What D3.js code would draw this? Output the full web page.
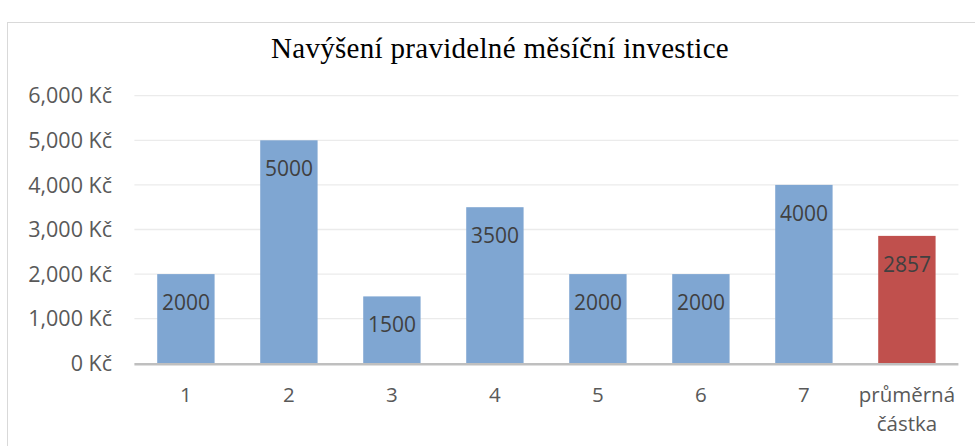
<!DOCTYPE html>
<html>
<head>
<meta charset="utf-8">
<script src="https://cdn.jsdelivr.net/npm/d3@7"></script>
<style>
  body { margin: 0; background: #fff; }
  svg { display: block; }
</style>
</head>
<body>
<svg id="chart"></svg>
<script>
const categories = ["1", "2", "3", "4", "5", "6", "7", "průměrná částka"];
const values = [2000, 5000, 1500, 3500, 2000, 2000, 4000, 2857];
const yTicks = [0, 1000, 2000, 3000, 4000, 5000, 6000];

const width = 975;
const height = 446;
const plot = { left: 134.4, right: 958.4, top: 95.7, bottom: 363.3 };

const svg = d3.select("#chart")
  .attr("width", width)
  .attr("height", height);

// chart frame
svg.append("rect")
  .attr("x", 7.5).attr("y", 22.5)
  .attr("width", 980).attr("height", 440)
  .attr("fill", "none")
  .attr("stroke", "#d9d9d9");

svg.append("text")
  .attr("x", 500)
  .attr("y", 58)
  .attr("text-anchor", "middle")
  .attr("font-family", "Liberation Serif, serif")
  .attr("font-size", 29)
  .attr("letter-spacing", 0.3)
  .attr("fill", "#000")
  .text("Navýšení pravidelné měsíční investice");

const x = d3.scaleBand()
  .domain(categories)
  .range([plot.left, plot.right])
  .paddingInner(0.443)
  .paddingOuter(0.2215);

const y = d3.scaleLinear()
  .domain([0, 6000])
  .range([plot.bottom, plot.top]);

// gridlines
svg.append("g")
  .selectAll("line")
  .data(yTicks.filter(d => d > 0))
  .join("line")
  .attr("x1", plot.left).attr("x2", plot.right)
  .attr("y1", d => y(d)).attr("y2", d => y(d))
  .attr("stroke", "#ebebeb")
  .attr("stroke-width", 1.3);

// y axis labels
const fmt = d3.format(",");
svg.append("g")
  .selectAll("text")
  .data(yTicks)
  .join("text")
  .attr("x", 112)
  .attr("y", d => y(d))
  .attr("dy", "0.36em")
  .attr("text-anchor", "end")
  .attr("font-family", "Open Sans, sans-serif")
  .attr("font-size", 21.5)
  .attr("fill", "#595959")
  .text(d => fmt(d) + " Kč");

// bars
svg.append("g")
  .selectAll("rect")
  .data(values)
  .join("rect")
  .attr("x", (d, i) => x(categories[i]))
  .attr("y", d => y(d))
  .attr("width", x.bandwidth())
  .attr("height", d => plot.bottom - y(d))
  .attr("fill", (d, i) => i === values.length - 1 ? "#c0504d" : "#7fa6d2");

// value labels
svg.append("g")
  .selectAll("text")
  .data(values)
  .join("text")
  .attr("x", (d, i) => x(categories[i]) + x.bandwidth() / 2)
  .attr("y", d => y(d) + 36)
  .attr("text-anchor", "middle")
  .attr("font-family", "Open Sans, sans-serif")
  .attr("font-size", 21)
  .attr("fill", "#404040")
  .text(d => d);

// x axis line
svg.append("line")
  .attr("x1", plot.left).attr("x2", plot.right)
  .attr("y1", plot.bottom + 1).attr("y2", plot.bottom + 1)
  .attr("stroke", "#bfbfbf")
  .attr("stroke-width", 2.5);

// x labels
const xLabels = svg.append("g")
  .selectAll("text")
  .data(categories)
  .join("text")
  .attr("y", 402)
  .attr("text-anchor", "middle")
  .attr("font-family", "Open Sans, sans-serif")
  .attr("font-size", 20.5)
  .attr("fill", "#595959");

xLabels.each(function(d) {
  const t = d3.select(this);
  d.split(" ").forEach((w, j) => {
    t.append("tspan")
      .attr("x", x(d) + x.bandwidth() / 2)
      .attr("dy", j === 0 ? 0 : 29)
      .text(w);
  });
});
</script>
</body>
</html>
